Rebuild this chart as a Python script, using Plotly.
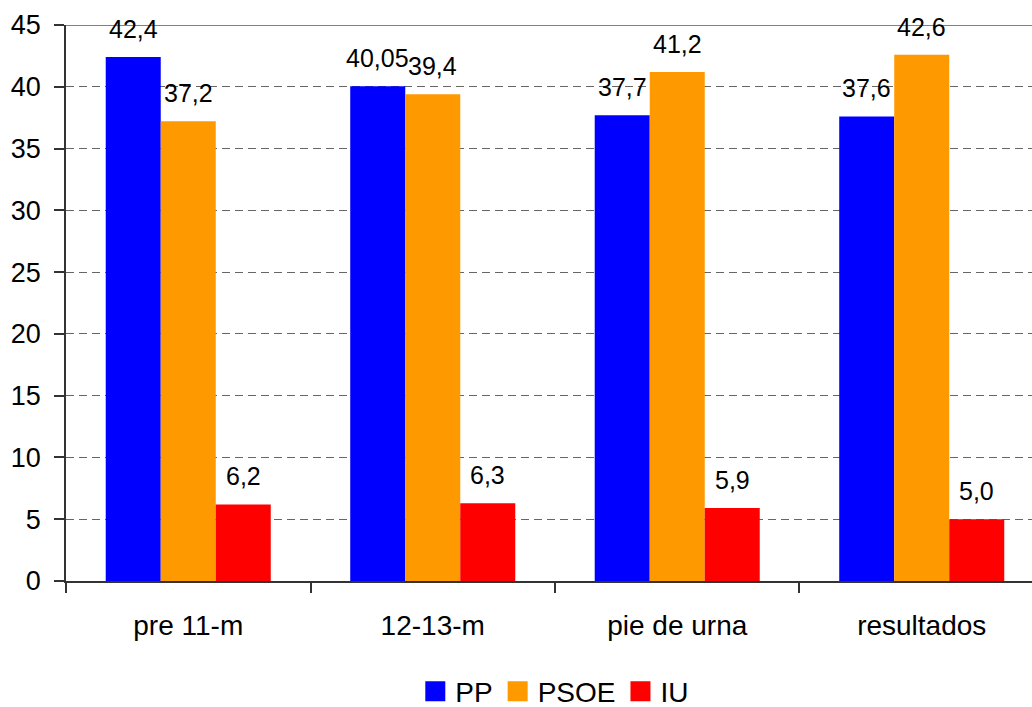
import plotly.graph_objects as go

categories = ["pre 11-m", "12-13-m", "pie de urna", "resultados"]
series_names = ["PP", "PSOE", "IU"]
pp = [42.4, 40.05, 37.7, 37.6]
psoe = [37.2, 39.4, 41.2, 42.6]
iu = [6.2, 6.3, 5.9, 5.0]
pp_labels = ["42,4", "40,05", "37,7", "37,6"]
psoe_labels = ["37,2", "39,4", "41,2", "42,6"]
iu_labels = ["6,2", "6,3", "5,9", "5,0"]
y_ticks = [0, 5, 10, 15, 20, 25, 30, 35, 40, 45]

colors = ["#0000FF", "#FF9900", "#FF0000"]
series_values = [pp, psoe, iu]
series_labels = [pp_labels, psoe_labels, iu_labels]

FONT = "Liberation Sans, Arial, sans-serif"
BARGAP = 0.325
bar_w = (1 - BARGAP) / 3

fig = go.Figure()
for name, vals, col in zip(series_names, series_values, colors):
    fig.add_trace(go.Bar(x=categories, y=vals, name=name, marker_color=col,
                         marker_line_width=0, showlegend=False))
# legend entries
for name, col in zip(series_names, colors):
    fig.add_trace(go.Scatter(x=[None], y=[None], mode="markers", name=name,
                             marker=dict(symbol="square", size=16, color=col,
                                         line=dict(color=col, width=4))))

annotations = []
for k, (vals, labs) in enumerate(zip(series_values, series_labels)):
    for i, (v, lab) in enumerate(zip(vals, labs)):
        annotations.append(dict(x=i + (k - 1) * bar_w, y=v, xref="x", yref="y",
                                text=lab, showarrow=False, yanchor="bottom",
                                xanchor="center", yshift=12,
                                font=dict(family=FONT, size=25, color="#000000")))

fig.update_layout(
    width=1032, height=707,
    margin=dict(l=66, r=0, t=25, b=126, autoexpand=False),
    paper_bgcolor="white", plot_bgcolor="white",
    barmode="group", bargap=BARGAP, bargroupgap=0,
    font=dict(family=FONT, size=25, color="#000000"),
    annotations=annotations,
    legend=dict(orientation="h", x=0.506, xanchor="center", yref="paper",
                y=-0.199, yanchor="middle", font=dict(family=FONT, size=28),
                bgcolor="rgba(0,0,0,0)", itemclick=False),
    shapes=[dict(type="line", xref="paper", yref="y", x0=0, x1=1, y0=45, y1=45,
                 line=dict(color="#808080", width=2), layer="above")],
)
fig.update_xaxes(
    type="category", range=[-0.5, 3.451], showgrid=False, automargin=False,
    showline=True, linecolor="#333333", linewidth=1.5,
    ticks="outside", tickson="boundaries", ticklen=10, tickcolor="#333333",
    tickwidth=1.5, tickfont=dict(family=FONT, size=28), ticklabelstandoff=19,
)
fig.update_yaxes(
    range=[0, 45], tickvals=y_ticks, showgrid=True, gridcolor="#666666",
    griddash="8px,5px", gridwidth=1.2, zeroline=False, automargin=False,
    showline=True, linecolor="#333333", linewidth=1.5,
    ticks="outside", ticklen=10, tickcolor="#333333", tickwidth=1.5,
    tickfont=dict(family=FONT, size=27), ticklabelstandoff=8,
)

fig.write_html("out.html",
               config={"displayModeBar": False},
               post_script="document.body.style.margin='0';"
                           "document.body.style.overflow='hidden';")
